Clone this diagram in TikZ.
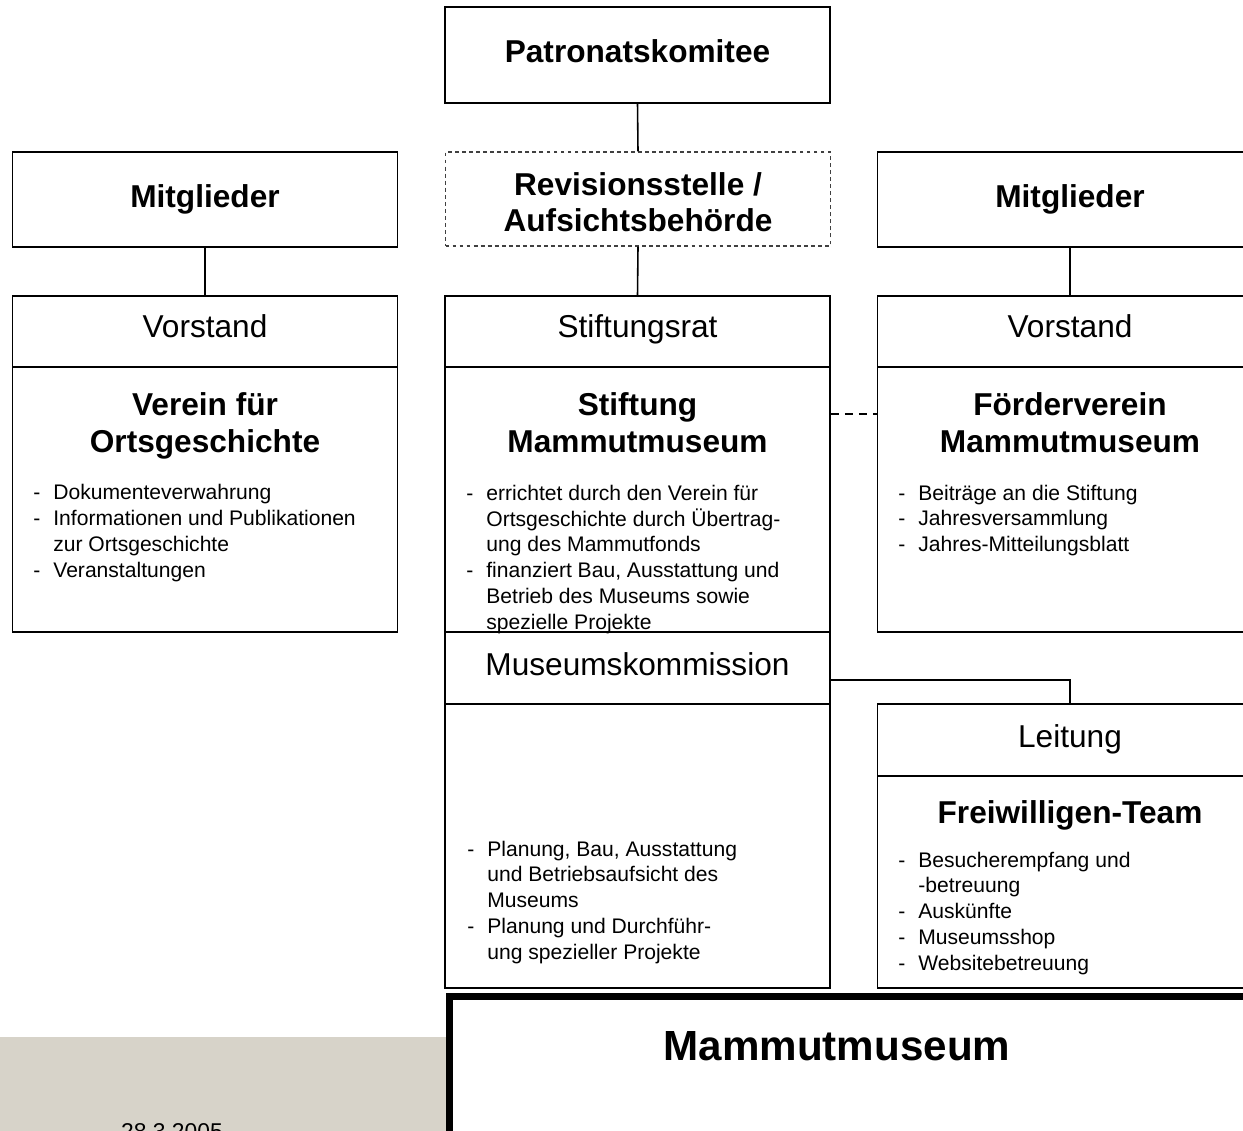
\documentclass[tikz,border=0pt]{standalone}
\usepackage{fontspec}
\setmainfont{Liberation Sans}
\definecolor{bandgrey}{RGB}{215,211,201}
\tikzset{
  box/.style={draw, line width=0.9pt, minimum width=7.7cm, inner sep=0pt},
  link/.style={line width=0.9pt},
  title/.style={font=\fontsize{18}{21}\selectfont\bfseries, align=center, anchor=base},
  head/.style={font=\fontsize{18}{21}\selectfont, anchor=base},
  list/.style={font=\fontsize{12}{14.65}\selectfont, align=left, anchor=base west, inner sep=0pt},
}
\newcommand{\dsh}{\makebox[0.4cm][l]{-}}
\newcommand{\ind}{\hspace*{0.4cm}}
\begin{document}
\begin{tikzpicture}[x=0.02cm, y=-0.02cm]
	\useasboundingbox (0,0) rectangle (1243,1131);
	\clip (0,0) rectangle (1243,1131);

	% oben (mehrzeilige Texte: base = letzte Zeile)
	\node[box, minimum height=1.92cm] (patron) at (637.5,55) {};
	\node[title] (patronlbl) at (637.5,63) {Patronatskomitee};
	\node[box, minimum height=1.88cm, line width=0.7pt, draw=black!75, dash pattern=on 2.2pt off 1.8pt] (revis) at (638,199) {};
	\node[title] (revislbl) at (638,232) {Revisionsstelle /\\Aufsichtsbehörde};

	% Verein links
	\node[box, minimum height=1.9cm] (mitL) at (205,199.5) {};
	\node[title] (mitLlbl) at (205,208) {Mitglieder};
	\node[box, minimum height=1.42cm] (vorstL) at (205,331.5) {};
	\node[head] (vorstLlbl) at (205,338) {Vorstand};
	\node[box, minimum height=5.3cm] (verein) at (205,499.5) {};
	\node[title] (vereinlbl) at (205,452) {Verein für\\Ortsgeschichte};
	\node[list] (vereinlist) at (33,577) {\dsh Dokumenteverwahrung\\
		\dsh Informationen und Publikationen\\ \ind zur Ortsgeschichte\\
		\dsh Veranstaltungen};

	% Stiftung
	\node[box, minimum height=1.42cm] (rat) at (637.5,331.5) {};
	\node[head] (ratlbl) at (637.5,338) {Stiftungsrat};
	\node[box, minimum height=5.3cm] (stiftung) at (637.5,499.5) {};
	\node[title] (stiftunglbl) at (637.5,452) {Stiftung\\Mammutmuseum};
	\node[list] (stiftunglist) at (466,629) {\dsh errichtet durch den Verein für\\
		\ind Ortsgeschichte durch Übertrag-\\ \ind ung des Mammutfonds\\
		\dsh finanziert Bau, Ausstattung und\\ \ind Betrieb des Museums sowie\\
		\ind spezielle Projekte};
	\node[box, minimum height=1.44cm] (komm) at (637.5,668) {};
	\node[head] (kommlbl) at (637.5,675) {Museumskommission};
	\node[box, minimum height=5.68cm] (kommbody) at (637.5,846) {};
	\node[list] (kommlist) at (467,959) {\dsh Planung, Bau, Ausstattung\\
		\ind und Betriebsaufsicht des\\ \ind Museums\\
		\dsh Planung und Durchführ-\\ \ind ung spezieller Projekte};

	% Foerderverein rechts
	\node[box, minimum height=1.9cm] (mitR) at (1070,199.5) {};
	\node[title] (mitRlbl) at (1070,208) {Mitglieder};
	\node[box, minimum height=1.42cm] (vorstR) at (1070,331.5) {};
	\node[head] (vorstRlbl) at (1070,338) {Vorstand};
	\node[box, minimum height=5.3cm] (foerder) at (1070,499.5) {};
	\node[title] (foerderlbl) at (1070,452) {Förderverein\\Mammutmuseum};
	\node[list] (foerderlist) at (898,551.5) {\dsh Beiträge an die Stiftung\\
		\dsh Jahresversammlung\\ \dsh Jahres-Mitteilungsblatt};
	\node[box, minimum height=1.44cm] (leitung) at (1070,740) {};
	\node[head] (leitunglbl) at (1070,747) {Leitung};
	\node[box, minimum height=4.24cm] (team) at (1070,882) {};
	\node[title] (teamlbl) at (1070,823) {Freiwilligen-Team};
	\node[list] (teamlist) at (898,970) {\dsh Besucherempfang und\\
		\ind -betreuung\\ \dsh Auskünfte\\ \dsh Museumsshop\\ \dsh Websitebetreuung};

	% Museum unten
	\fill[bandgrey] (0,1037) rectangle (446,1140);
	\node[draw, line width=4pt, anchor=north west, minimum width=17cm, minimum height=4cm] (museum) at (446,993) {};
	\node[font=\fontsize{24}{28}\selectfont\bfseries, anchor=base] (museumlbl) at (837,1060) {Mammutmuseum};
	\node[font=\fontsize{13}{15}\selectfont, anchor=base] (datum) at (172,1139) {28.3.2005};

	\draw[link] (patron.south) -- (revis.north);
	\draw[link] (revis.south) -- (rat.north);
	\draw[link] (mitL.south) -- (vorstL.north);
	\draw[link] (mitR.south) -- (vorstR.north);
	\draw[link, dash pattern=on 4.5pt off 3.5pt] ([yshift=-0.96cm]stiftung.north east) -- ([yshift=-0.96cm]foerder.north west);
	\draw[link] ([yshift=-0.24cm]komm.east) -| (leitung.north);
\end{tikzpicture}
\end{document}
